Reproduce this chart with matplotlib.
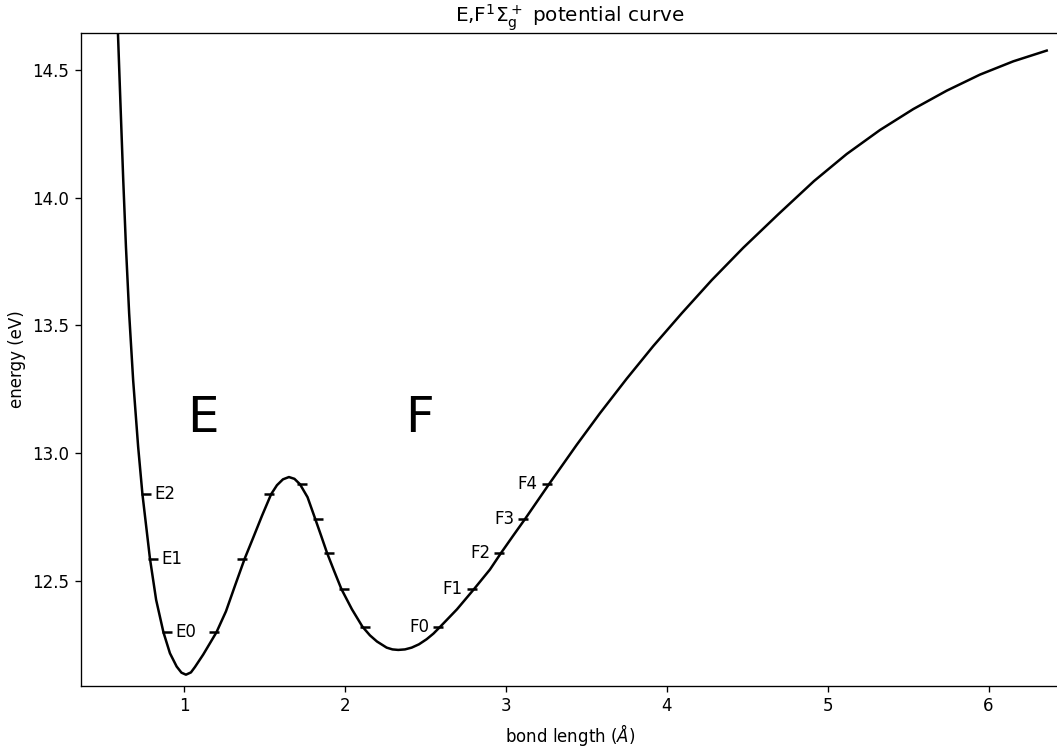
import matplotlib
matplotlib.use("Agg")
import matplotlib.pyplot as plt

# E,F 1Sigma_g+ potential energy curve of H2 (bond length in Angstrom, energy in eV)
bond_length = [
    0.5853, 0.5878, 0.6040, 0.6208, 0.6376, 0.6575, 0.6823, 0.7134, 0.7401, 0.7868,
    0.8253, 0.8707, 0.9111, 0.9528, 0.9826, 1.0106, 1.0417, 1.0665, 1.1181, 1.2002,
    1.2593, 1.3152, 1.3761, 1.4271, 1.4831, 1.5403, 1.5763, 1.6136, 1.6509, 1.6851,
    1.7193, 1.7666, 1.8138, 1.8505, 1.8871, 1.9319, 1.9773, 2.0426, 2.1079, 2.1545,
    2.1980, 2.2583, 2.2944, 2.3304, 2.3721, 2.4138, 2.4592, 2.5070, 2.5493, 2.5916,
    2.6954, 2.8011, 2.9006, 2.9708, 3.0454, 3.1200, 3.2674, 3.4396, 3.5844, 3.7504,
    3.9158, 4.0923, 4.2789, 4.4754, 4.6929, 4.9149, 5.1182, 5.3252, 5.5322, 5.7398,
    5.9469, 6.1539, 6.3615,
]
energy = [
    14.696, 14.646, 14.359, 14.069, 13.808, 13.547, 13.286, 13.025, 12.839, 12.587,
    12.425, 12.298, 12.216, 12.164, 12.140, 12.132, 12.141, 12.162, 12.211, 12.298,
    12.380, 12.480, 12.587, 12.666, 12.754, 12.839, 12.874, 12.897, 12.906, 12.899,
    12.878, 12.827, 12.743, 12.677, 12.610, 12.538, 12.467, 12.388, 12.320, 12.286,
    12.262, 12.238, 12.231, 12.229, 12.231, 12.238, 12.251, 12.271, 12.293, 12.320,
    12.388, 12.467, 12.544, 12.610, 12.677, 12.743, 12.878, 13.032, 13.156, 13.291,
    13.419, 13.547, 13.677, 13.804, 13.935, 14.065, 14.171, 14.265, 14.347, 14.419,
    14.482, 14.534, 14.576,
]

# vibrational levels of the inner (E) well and their turning points
e_labels = ["E0", "E1", "E2"]
e_levels = [12.298, 12.587, 12.839]
e_inner = [0.892, 0.807, 0.762]
e_outer = [1.185, 1.361, 1.525]

# vibrational levels of the outer (F) well and their turning points
f_labels = ["F0", "F1", "F2", "F3", "F4"]
f_levels = [12.320, 12.467, 12.610, 12.743, 12.878]
f_inner = [2.123, 1.993, 1.903, 1.829, 1.735]
f_outer = [2.579, 2.789, 2.958, 3.108, 3.255]

plt.rcParams["font.family"] = ["DejaVu Sans"]
plt.rcParams["font.size"] = 10

fig = plt.figure(figsize=(1057 / 120, 747 / 120), dpi=120)
ax = fig.add_axes([0.0766, 0.0821, 0.9253, 0.8741])

ax.plot(bond_length, energy, color="black", lw=1.5)

mk = dict(ls="none", marker="_", ms=6, mew=1.5, color="black")
ax.plot(e_inner, e_levels, **mk)
ax.plot(e_outer, e_levels, **mk)
ax.plot(f_inner, f_levels, **mk)
ax.plot(f_outer, f_levels, **mk)

for lab, x, y in zip(e_labels, e_inner, e_levels):
    ax.annotate(lab, (x, y), xytext=(5, 0), textcoords="offset points",
                ha="left", va="center", fontsize=10)
for lab, x, y in zip(f_labels, f_outer, f_levels):
    ax.annotate(lab, (x, y), xytext=(-5.5, 0), textcoords="offset points",
                ha="right", va="center", fontsize=10)

ax.text(1.117, 13.081, "E", fontsize=30, ha="center", va="baseline")
ax.text(2.465, 13.081, "F", fontsize=30, ha="center", va="baseline")

ax.set_xlim(0.358, 6.438)
ax.set_ylim(12.089, 14.646)
ax.set_xticks([1, 2, 3, 4, 5, 6])
ax.set_yticks([12.5, 13.0, 13.5, 14.0, 14.5])
ax.set_xlabel(r"bond length ($Å$)")
ax.set_ylabel("energy (eV)")
ax.set_title(r"E,F$^1\Sigma_\mathrm{g}^+$ potential curve")

fig.savefig("out.png", dpi=120)
